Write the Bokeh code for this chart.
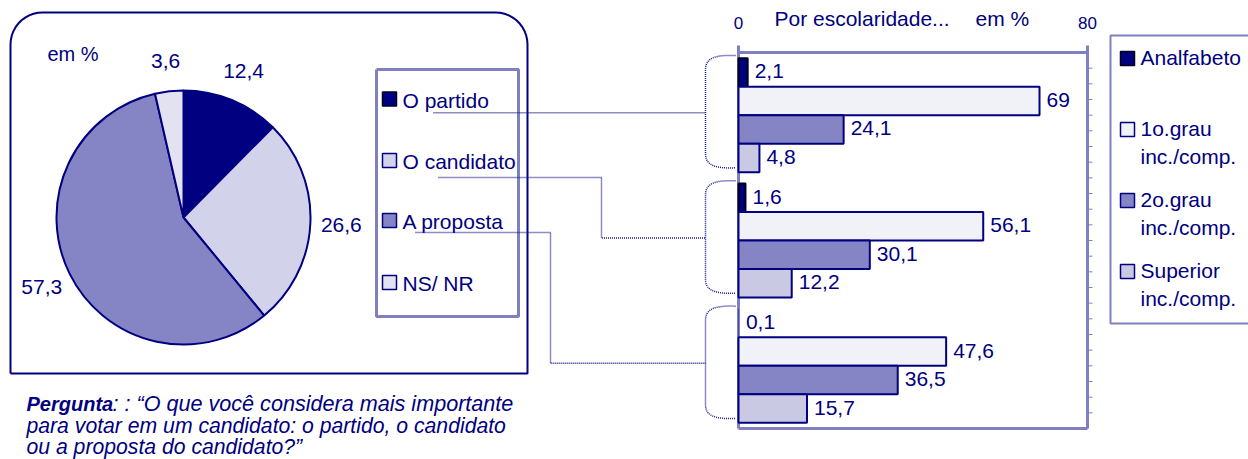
import numpy as np
from bokeh.plotting import figure
from bokeh.models import Range1d, ColumnDataSource
from bokeh.core.properties import value
from bokeh.embed import file_html
from bokeh.resources import INLINE

# ---------------- data ----------------
pie_labels = ["O partido", "O candidato", "A proposta", "NS/ NR"]
pie_values = [12.4, 26.6, 57.3, 3.6]
pie_colors = ["#000080", "#D2D2EA", "#8585C5", "#E2E2F1"]

groups = ["O partido", "O candidato", "A proposta"]
levels = ["Analfabeto", "1o.grau\ninc./comp.", "2o.grau\ninc./comp.", "Superior\ninc./comp."]
level_colors = ["#000080", "#F1F1F8", "#8585C5", "#C9C9E3"]
level_lines = ["#000018", "#000080", "#000080", "#000080"]
analfabeto = [2.1, 1.6, 0.1]
grau1 = [69, 56.1, 47.6]
grau2 = [24.1, 30.1, 36.5]
superior = [4.8, 12.2, 15.7]
series = [analfabeto, grau1, grau2, superior]
bar_ticks = [0, 80]

NAVY = "#000080"
LAV = "#8080C0"
FONT = value("Liberation Sans")

def fmt(v):
    return f"{v:g}".replace(".", ",")

# ---------------- figure (pixel-like main coordinates) ----------------
W, H = 1248, 459
X0, Y0 = 0, 0
p = figure(width=W, height=H, x_range=Range1d(X0, X0 + W), y_range=Range1d(Y0 + H, Y0),
           output_backend="svg", toolbar_location=None, min_border=0,
           x_axis_location=None, y_axis_location=None, outline_line_color=None)
p.grid.visible = False
p.background_fill_color = "white"

# pie coordinate system (centred, y up)
cx, cy, R = 183, 217, 127
p.extra_x_ranges["pie"] = Range1d(X0 - cx, X0 + W - cx)
p.extra_y_ranges["pie"] = Range1d(cy - (Y0 + H), cy - Y0)

# bar chart coordinate system
bx0, bx80 = 738, 1087
kx = (bx80 - bx0) / 80.0
by_top, by_bot = 52, 428
cat = (by_bot - by_top) / len(groups)
p.extra_x_ranges["bar"] = Range1d((X0 - bx0) / kx, (X0 + W - bx0) / kx)
p.extra_y_ranges["bar"] = Range1d((Y0 + H - by_top) / cat, (Y0 - by_top) / cat)

# ---------------- rounded frame around pie ----------------
L, T, Rt, B, rad = 10, 12, 527, 373, 32
a1 = np.linspace(np.pi, np.pi / 2, 12)
a2 = np.linspace(np.pi / 2, 0, 12)
xs = [L] + list(L + rad + rad * np.cos(a1)) + list(Rt - rad + rad * np.cos(a2)) + [Rt, L, L]
ys = [B] + list(T + rad - rad * np.sin(a1)) + list(T + rad - rad * np.sin(a2)) + [B, B, B]
p.line(xs, ys, line_color=NAVY, line_width=2)

# ---------------- pie ----------------
vals = np.array(pie_values)
cum = np.concatenate([[0], np.cumsum(vals)]) / vals.sum()
starts = np.pi / 2 - 2 * np.pi * cum[:-1]
ends = np.pi / 2 - 2 * np.pi * cum[1:]
mids = (starts + ends) / 2
pie_src = ColumnDataSource(dict(start=starts, end=ends, color=pie_colors,
                                lx=158 * np.cos(mids), ly=158 * np.sin(mids),
                                txt=[fmt(v) for v in pie_values]))
p.wedge(x=0, y=0, radius=R, start_angle="start", end_angle="end", direction="clock",
        fill_color="color", line_color=NAVY, line_width=2, source=pie_src,
        x_range_name="pie", y_range_name="pie")
p.text(x="lx", y="ly", text="txt", source=pie_src, x_range_name="pie", y_range_name="pie",
       text_align="center", text_baseline="middle", text_font=FONT,
       text_font_size="21px", text_color=NAVY)
p.text(x=[47], y=[53], text=["em %"], text_baseline="middle", text_font=FONT,
       text_font_size="20px", text_color=NAVY)

# ---------------- pie legend ----------------
p.line([376, 518, 518, 376, 376], [69, 69, 316, 316, 69], line_color=LAV, line_width=3)
leg_y = [98.5, 160, 220, 282]
p.scatter(x=[389] * 4, y=leg_y, marker="square", size=14, fill_color=pie_colors,
          line_color=["#000018", NAVY, NAVY, NAVY], line_width=1.5)
p.text(x=[402] * 4, y=[v + 1 for v in leg_y], text=pie_labels, text_baseline="middle",
       text_font=FONT, text_font_size="21px", text_color=NAVY)

# ---------------- connectors ----------------
tips = [by_top + (g + 0.5) * cat - 2.5 for g in range(len(groups))]
conn_style = dict(line_color="#1A1A90", line_width=1.5, line_dash="1 1")
p.line([433, 705], [tips[0], tips[0]], **conn_style)
p.line([438, 601, 601, 705], [177, 177, tips[1], tips[1]], **conn_style)
p.line([415, 550, 550, 705], [232, 232, tips[2], tips[2]], **conn_style)

# braces
def bez(p0, p1, p2, p3, n=14):
    t = np.linspace(0, 1, n)[:, None]
    pts = ((1 - t) ** 3) * p0 + 3 * ((1 - t) ** 2) * t * p1 + 3 * (1 - t) * t ** 2 * p2 + t ** 3 * p3
    return pts[:, 0], pts[:, 1]

for g in range(len(groups)):
    top = by_top + g * cat + 3
    bot = by_top + (g + 1) * cat - 10
    x1, y1 = bez(np.array([735, top]), np.array([712, top - 1]), np.array([705, top + 4]), np.array([705, top + 14]))
    x2, y2 = bez(np.array([705, bot - 14]), np.array([705, bot - 4]), np.array([712, bot + 1]), np.array([735, bot]))
    p.line(list(x1) + list(x2), list(y1) + list(y2), **conn_style)

# ---------------- bar chart frame ----------------
frame = dict(line_color=LAV, line_width=3, x_range_name="bar", y_range_name="bar")
p.segment(x0=[0, 0, 80, 0], y0=[-7 / cat, 0, -7 / cat, 3], x1=[0, 80, 80, 80], y1=[3, 0, 3, 3], **frame)
mt = np.linspace(0, 3, 25)[1:-1]
p.segment(x0=[80] * len(mt), y0=mt, x1=[80 + 5 / kx] * len(mt), y1=mt,
          line_color=LAV, line_width=1, x_range_name="bar", y_range_name="bar")

# ---------------- bars ----------------
bw = 28.5 / cat
for s, vals_s in enumerate(series):
    yc = [g + 0.5 + (s - 1.5) * bw for g in range(len(groups))]
    src = ColumnDataSource(dict(y=yc, v=vals_s, txt=[fmt(v) for v in vals_s],
                                lw=[2 if v >= 0.5 else 0 for v in vals_s]))
    p.hbar(y="y", left=0, right="v", height=bw, fill_color=level_colors[s],
           line_color=level_lines[s], line_width="lw", source=src,
           x_range_name="bar", y_range_name="bar")
    p.text(x="v", y="y", text="txt", source=src, x_offset=7, y_offset=-1,
           text_baseline="middle", text_font=FONT, text_font_size="21px", text_color=NAVY,
           x_range_name="bar", y_range_name="bar")

# tick labels and title
p.text(x=bar_ticks, y=[22, 22], text=[str(t) for t in bar_ticks], x_range_name="bar",
       text_align="center", text_baseline="middle", text_font=FONT,
       text_font_size="17px", text_color=NAVY)
p.text(x=[774, 975], y=[18, 18], text=["Por escolaridade...", "em %"], text_baseline="middle",
       text_font=FONT, text_font_size="21px", text_color=NAVY)

# ---------------- education legend ----------------
p.line([1250, 1110, 1110, 1250], [35, 35, 323, 323], line_color=LAV, line_width=2)
lv_y = [58, 129, 200, 271]
p.scatter(x=[1127] * 4, y=lv_y, marker="square", size=14, fill_color=level_colors,
          line_color=level_lines, line_width=1.5)
tx, ty, tt = [], [], []
for yv, lab in zip(lv_y, levels):
    for i, part in enumerate(lab.split("\n")):
        tx.append(1140)
        ty.append(yv - 1 + i * 28)
        tt.append(part)
p.text(x=tx, y=ty, text=tt, text_baseline="middle", text_font=FONT,
       text_font_size="21px", text_color=NAVY)

# ---------------- question ----------------
p.text(x=[26], y=[403], text=["Pergunta"], text_baseline="middle", text_font=FONT,
       text_font_size="20px", text_font_style="bold italic", text_color=NAVY)
p.text(x=[112], y=[403], text=[": : \u201cO que voc\u00ea considera mais importante"],
       text_baseline="middle", text_font=FONT, text_font_size="21.6px",
       text_font_style="italic", text_color=NAVY)
p.text(x=[26, 26], y=[425, 446],
       text=["para votar em um candidato: o partido, o candidato", "ou a proposta do candidato?\u201d"],
       text_baseline="middle", text_font=FONT, text_font_size="21.2px",
       text_font_style="italic", text_color=NAVY)

open("out.html", "w").write(file_html(p, INLINE))
